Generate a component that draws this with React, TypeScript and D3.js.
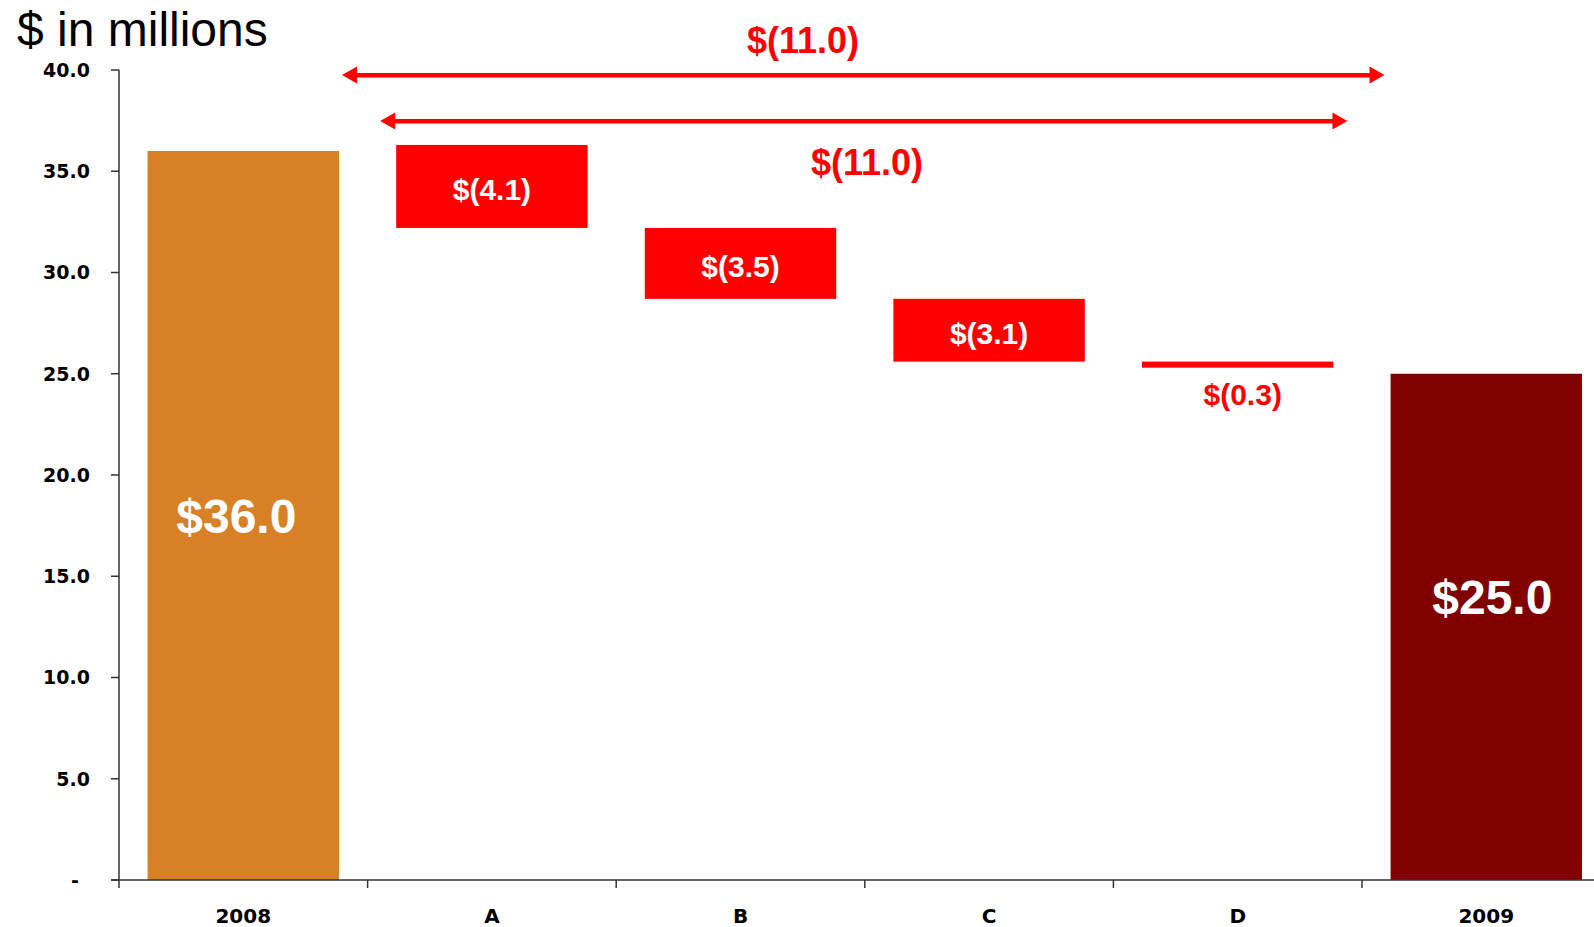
import * as d3 from 'd3';

const categories = ['2008', 'A', 'B', 'C', 'D', '2009'];
const startTotal = 36.0;
const endTotal = 25.0;
const changes = [-4.1, -3.5, -3.1, -0.3];
// floating boxes in the picture begin a little above the 2008 bar
const bridgeStart = 36.3;
const totalLabelAt = [18, 14];
const yTicks = [0, 5, 10, 15, 20, 25, 30, 35, 40];
const bridgeLabels = ['$(11.0)', '$(11.0)'];

const W = 1594;
const H = 927;
const margin = { top: 70, left: 119, bottom: 47 };
const step = 248.6;

const ORANGE = '#D88026';
const DARK = '#800000';
const RED = '#FF0000';
const tickFont = '"DejaVu Sans", Verdana, sans-serif';
const labelFont = '"Liberation Sans", Arial, sans-serif';

const fmtChange = (v: number) => (v < 0 ? `$(${Math.abs(v).toFixed(1)})` : `$${v.toFixed(1)}`);
const fmtTick = (v: number) => (v === 0 ? '-' : v.toFixed(1));

const Arrow = ({ x1, x2, y }: { x1: number; x2: number; y: number }) => {
    const head = 15;
    const half = 8.5;
    return (
        <g fill={RED}>
            <rect x={x1 + head - 1} y={y - 2} width={x2 - x1 - 2 * head + 2} height={4.5} />
            <path d={`M${x1},${y} L${x1 + head},${y - half} L${x1 + head},${y + half} Z`} />
            <path d={`M${x2},${y} L${x2 - head},${y - half} L${x2 - head},${y + half} Z`} />
        </g>
    );
};

export default function App() {
    const x = d3
        .scaleBand<string>()
        .domain(categories)
        .range([margin.left, margin.left + step * categories.length])
        .paddingInner(0.23)
        .paddingOuter(0.115);

    const y = d3.scaleLinear().domain([0, 40]).range([H - margin.bottom, margin.top]);
    const bw = x.bandwidth();
    const y0 = y(0);

    // cumulative floating steps
    let level = bridgeStart;
    const steps = changes.map((v, i) => {
        const top = level;
        level = level + v;
        return { cat: categories[i + 1], v, top, bottom: level };
    });

    const totals = [
        { cat: categories[0], v: startTotal, color: ORANGE, labelAt: totalLabelAt[0], dx: -7 },
        { cat: categories[5], v: endTotal, color: DARK, labelAt: totalLabelAt[1], dx: 6 },
    ];

    const bandEdges = d3.range(1, categories.length).map((i) => x.range()[0] + i * x.step());

    const left2008 = (x(categories[0]) as number) + bw;
    const right2009 = x(categories[5]) as number;
    const leftA = x(categories[1]) as number;
    const rightD = (x(categories[4]) as number) + bw;

    return (
        <svg width={W} height={H} style={{ position: 'absolute', left: 0, top: 0, background: '#fff' }}>
            <text x={17} y={46} fontFamily={labelFont} fontSize={48} fill="#000">
                $ in millions
            </text>

            {/* bars */}
            {totals.map((d) => (
                <g key={d.cat}>
                    <rect x={x(d.cat)} y={y(d.v)} width={bw} height={y0 - y(d.v)} fill={d.color} />
                    <text
                        x={(x(d.cat) as number) + bw / 2 + d.dx}
                        y={y(d.labelAt) + 17}
                        textAnchor="middle"
                        fontFamily={labelFont}
                        fontWeight="bold"
                        fontSize={48}
                        fill="#fff"
                    >
                        {`$${d.v.toFixed(1)}`}
                    </text>
                </g>
            ))}

            {steps.map((s, i) => {
                const cx = (x(s.cat) as number) + bw / 2;
                const big = y(s.bottom) - y(s.top) > 30;
                return (
                    <g key={s.cat}>
                        <rect x={x(s.cat)} y={y(s.top)} width={bw} height={y(s.bottom) - y(s.top)} fill={RED} />
                        <text
                            x={big ? cx : cx + 5}
                            y={big ? (y(s.top) + y(s.bottom)) / 2 + 14 : y(s.bottom) + 37}
                            textAnchor="middle"
                            fontFamily={labelFont}
                            fontWeight="bold"
                            fontSize={30}
                            fill={big ? '#fff' : RED}
                        >
                            {fmtChange(changes[i])}
                        </text>
                    </g>
                );
            })}

            {/* bridge arrows */}
            <Arrow x1={left2008 + 3} x2={right2009 - 6} y={75} />
            <Arrow x1={leftA - 16} x2={rightD + 14} y={121} />
            <text x={803} y={53} textAnchor="middle" fontFamily={labelFont} fontWeight="bold" fontSize={36} fill={RED}>
                {bridgeLabels[0]}
            </text>
            <text x={867} y={175} textAnchor="middle" fontFamily={labelFont} fontWeight="bold" fontSize={36} fill={RED}>
                {bridgeLabels[1]}
            </text>

            {/* axes */}
            <g stroke="#333" strokeWidth={1.5}>
                <line x1={margin.left} x2={margin.left} y1={y(40)} y2={y0 + 8} />
                {yTicks.map((t) => (
                    <line key={t} x1={margin.left - 8} x2={margin.left} y1={y(t)} y2={y(t)} />
                ))}
                <line x1={margin.left - 8} x2={W} y1={y0} y2={y0} />
                {bandEdges.map((e) => (
                    <line key={e} x1={e} x2={e} y1={y0} y2={y0 + 8} />
                ))}
            </g>
            {yTicks.map((t) => (
                <text
                    key={t}
                    x={t === 0 ? 79 : 90}
                    y={y(t)}
                    dy="0.36em"
                    textAnchor="end"
                    fontFamily={tickFont}
                    fontWeight="bold"
                    fontSize={19}
                    fill="#000"
                >
                    {fmtTick(t)}
                </text>
            ))}
            {categories.map((c) => (
                <text
                    key={c}
                    x={(x(c) as number) + bw / 2}
                    y={923}
                    textAnchor="middle"
                    fontFamily={tickFont}
                    fontWeight="bold"
                    fontSize={20}
                    fill="#000"
                >
                    {c}
                </text>
            ))}
        </svg>
    );
}
